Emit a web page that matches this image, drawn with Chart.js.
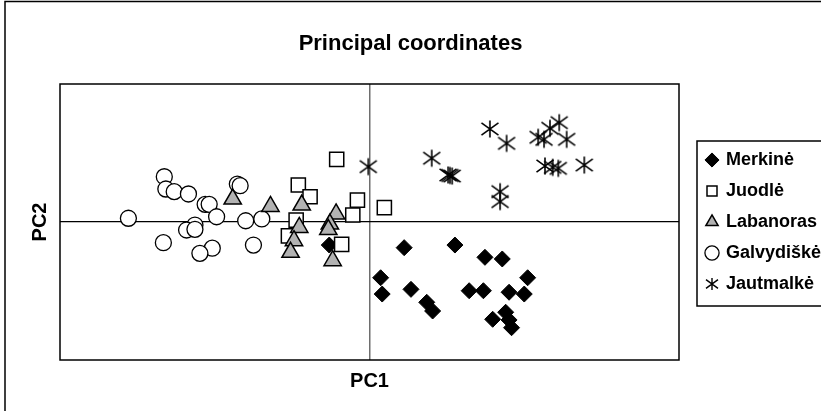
<!DOCTYPE html>
<html>
<head>
<meta charset="utf-8">
<title>Principal coordinates</title>
<script src="https://cdn.jsdelivr.net/npm/chart.js@4/dist/chart.umd.min.js"></script>
<style>
    html, body { margin: 0; padding: 0; background: #fff; }
    canvas { display: block; }
</style>
</head>
<body>
<canvas id="pco-chart" width="821" height="411"></canvas>
<script>
// Datos (PC1 / PC2)
var groupNames = ['Merkinė', 'Juodlė', 'Labanoras', 'Galvydiškė', 'Jautmalkė'];

var merkinePC1 = [0.112, 0.276, 0.373, 0.429, 0.036, 0.041, 0.134, 0.185, 0.204, 0.322, 0.368, 0.451, 0.500, 0.511, 0.398, 0.440, 0.451, 0.459, -0.130];
var merkinePC2 = [-0.186, -0.167, -0.256, -0.268, -0.404, -0.522, -0.488, -0.582, -0.645, -0.498, -0.498, -0.509, -0.522, -0.404, -0.705, -0.654, -0.710, -0.766, -0.167];

var juodlePC1 = [-0.106, -0.230, -0.192, -0.039, -0.054, 0.048, -0.237, -0.262, -0.090];
var juodlePC2 = [0.454, 0.268, 0.183, 0.159, 0.051, 0.104, 0.014, -0.101, -0.162];

var labanorasPC1 = [-0.442, -0.320, -0.219, -0.227, -0.244, -0.255, -0.108, -0.128, -0.133, -0.119];
var labanorasPC2 = [0.166, 0.113, 0.123, -0.039, -0.135, -0.220, 0.058, -0.015, -0.055, -0.280];

var galvydiskePC1 = [-0.779, -0.663, -0.658, -0.631, -0.585, -0.531, -0.518, -0.494, -0.427, -0.418, -0.400, -0.348, -0.564, -0.591, -0.564, -0.666, -0.508, -0.548, -0.375];
var galvydiskePC2 = [0.027, 0.328, 0.239, 0.220, 0.203, 0.128, 0.128, 0.038, 0.275, 0.263, 0.009, 0.022, -0.022, -0.058, -0.053, -0.150, -0.190, -0.227, -0.167];

var jautmalkePC1 = [-0.004, 0.201, 0.254, 0.260, 0.267, 0.389, 0.443, 0.422, 0.422, 0.545, 0.564, 0.583, 0.613, 0.637, 0.567, 0.592, 0.610, 0.694];
var jautmalkePC2 = [0.401, 0.462, 0.341, 0.337, 0.333, 0.674, 0.570, 0.220, 0.148, 0.614, 0.599, 0.679, 0.720, 0.599, 0.406, 0.396, 0.389, 0.413];

(function() {
    'use strict';

    var FONT = '"Liberation Sans", Arial, sans-serif';

    /**
     * Unir columnas x / y en puntos
     */
    function toPoints(xs, ys) {
        return xs.map(function(x, i) {
            return { x: x, y: ys[i] };
        });
    }

    /**
     * Asterisco de 6 brazos (vertical + dos diagonales)
     */
    function makeAsterisk(size, half, lineWidth) {
        var c = document.createElement('canvas');
        c.width = size;
        c.height = size;
        var ctx = c.getContext('2d');
        var m = size / 2;
        ctx.strokeStyle = '#000';
        ctx.lineWidth = lineWidth;
        ctx.beginPath();
        ctx.moveTo(m, m - half);
        ctx.lineTo(m, m + half);
        ctx.moveTo(m - half, m - half * 0.72);
        ctx.lineTo(m + half, m + half * 0.72);
        ctx.moveTo(m - half, m + half * 0.72);
        ctx.lineTo(m + half, m - half * 0.72);
        ctx.stroke();
        return c;
    }

    var starBig = makeAsterisk(20, 8.5, 1.6);
    var starSmall = makeAsterisk(14, 6, 1.4);

    /**
     * Marcos: gráfico, área de trazado y leyenda
     */
    var framePlugin = {
        id: 'frames',
        beforeDatasetsDraw: function(chart) {
            var ctx = chart.ctx;
            var a = chart.chartArea;
            ctx.save();
            ctx.strokeStyle = '#000';
            ctx.lineWidth = 1.5;
            ctx.strokeRect(a.left, a.top, a.right - a.left, a.bottom - a.top);
            ctx.strokeRect(5, 1.5, 840, 430);
            var lg = chart.legend;
            if (lg) {
                ctx.strokeRect(lg.left + 3, 141, 200, 165);
            }
            ctx.restore();
        }
    };

    var datasets = [
        {
            label: groupNames[0],
            data: toPoints(merkinePC1, merkinePC2),
            pointStyle: 'rectRot',
            pointRadius: 8,
            backgroundColor: '#000',
            borderColor: '#000',
            borderWidth: 1,
            order: 2
        },
        {
            label: groupNames[1],
            data: toPoints(juodlePC1, juodlePC2),
            pointStyle: 'rect',
            pointRadius: 10,
            backgroundColor: '#fff',
            borderColor: '#000',
            borderWidth: 1.5,
            order: 1
        },
        {
            label: groupNames[2],
            data: toPoints(labanorasPC1, labanorasPC2),
            pointStyle: 'triangle',
            pointRadius: 10,
            backgroundColor: '#b2b2b2',
            borderColor: '#000',
            borderWidth: 1.5,
            order: 0
        },
        {
            label: groupNames[3],
            data: toPoints(galvydiskePC1, galvydiskePC2),
            pointStyle: 'circle',
            pointRadius: 8,
            backgroundColor: '#fff',
            borderColor: '#000',
            borderWidth: 1.3,
            order: 3
        },
        {
            label: groupNames[4],
            data: toPoints(jautmalkePC1, jautmalkePC2),
            pointStyle: starBig,
            pointRadius: 9,
            backgroundColor: '#000',
            borderColor: '#000',
            borderWidth: 1,
            order: 4
        }
    ];

    new Chart(document.getElementById('pco-chart'), {
        type: 'scatter',
        data: { datasets: datasets },
        options: {
            responsive: false,
            animation: false,
            layout: { padding: { left: 0, right: 0, top: 0, bottom: 0 } },
            plugins: {
                tooltip: { enabled: false },
                title: {
                    display: true,
                    text: 'Principal coordinates',
                    fullSize: true,
                    color: '#000',
                    font: { family: FONT, size: 22, weight: 'bold' },
                    padding: { top: 31, bottom: 26.6 }
                },
                legend: {
                    display: true,
                    position: 'right',
                    fullSize: false,
                    maxWidth: 127,
                    labels: {
                        usePointStyle: true,
                        boxWidth: 10,
                        boxHeight: 10,
                        padding: 13,
                        color: '#000',
                        font: { family: FONT, size: 18, weight: 'bold' },
                        sort: function(a, b) { return a.datasetIndex - b.datasetIndex; },
                        generateLabels: function(chart) {
                            var items = Chart.defaults.plugins.legend.labels.generateLabels(chart);
                            items.forEach(function(item) {
                                if (item.datasetIndex === 4) item.pointStyle = starSmall;
                            });
                            return items;
                        }
                    }
                }
            },
            scales: {
                x: {
                    type: 'linear',
                    min: -1,
                    max: 1,
                    ticks: { display: false, stepSize: 1 },
                    border: { display: false },
                    grid: {
                        drawTicks: false,
                        lineWidth: 1.5,
                        color: function(c) {
                            return c.tick && c.tick.value === 0 ? '#6e6e6e' : 'rgba(0,0,0,0)';
                        }
                    },
                    title: {
                        display: true,
                        text: 'PC1',
                        color: '#000',
                        font: { family: FONT, size: 20, weight: 'bold' },
                        padding: { top: 0, bottom: 18 }
                    },
                    afterFit: function(scale) { scale.height = 51; }
                },
                y: {
                    type: 'linear',
                    min: -1,
                    max: 1,
                    ticks: { display: false, stepSize: 1 },
                    border: { display: false },
                    grid: {
                        drawTicks: false,
                        lineWidth: 1.2,
                        color: function(c) {
                            return c.tick && c.tick.value === 0 ? '#000' : 'rgba(0,0,0,0)';
                        }
                    },
                    title: {
                        display: true,
                        text: 'PC2',
                        color: '#000',
                        font: { family: FONT, size: 20, weight: 'bold' },
                        padding: { top: 28, bottom: 0 }
                    },
                    afterFit: function(scale) { scale.width = 60; }
                },
                // eje vacío para separar la leyenda del área de trazado
                gap: {
                    type: 'linear',
                    position: 'right',
                    display: true,
                    ticks: { display: false },
                    grid: { display: false, drawTicks: false },
                    border: { display: false },
                    afterFit: function(scale) { scale.width = 15; }
                }
            }
        },
        plugins: [framePlugin]
    });
})();
</script>
</body>
</html>
